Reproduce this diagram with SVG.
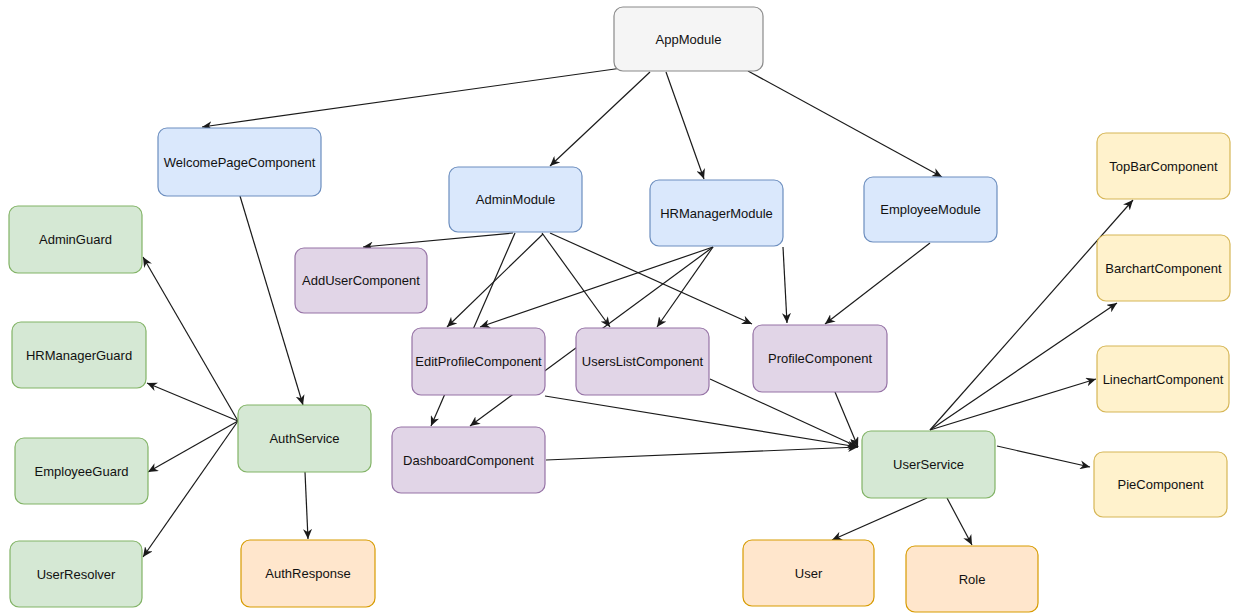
<svg xmlns="http://www.w3.org/2000/svg" width="1233" height="613" viewBox="0 0 1233 613">
<style>
.n rect{stroke-width:1.2}
.n text{font-family:"Liberation Sans",Arial,sans-serif;font-size:13px;fill:#111;text-anchor:middle;dominant-baseline:central}
.gray rect{fill:#f5f5f5;stroke:#8a8a8a}
.blue rect{fill:#dae8fc;stroke:#6c8ebf}
.green rect{fill:#d5e8d4;stroke:#82b366}
.purple rect{fill:#e1d5e7;stroke:#9673a6}
.yellow rect{fill:#fff2cc;stroke:#d6b656}
.orange rect{fill:#ffe6cc;stroke:#d79b00}
#edges line{stroke:#1a1a1a;stroke-width:1.2;fill:none}
#edges line.a{marker-end:url(#arr)}
</style>
<defs>
<marker id="arr" markerUnits="userSpaceOnUse" markerWidth="11" markerHeight="9" refX="10" refY="4.5" orient="auto">
<path d="M0,0 L10,4.5 L0,9 L3,4.5 Z" fill="#1a1a1a"/>
</marker>
</defs>
<rect width="1233" height="613" fill="#ffffff"/>
<g id="edges">
<line class="a" x1="622" y1="68" x2="202" y2="127"/>
<line class="a" x1="650" y1="72" x2="550" y2="166"/>
<line class="a" x1="666" y1="72" x2="704" y2="179"/>
<line class="a" x1="748" y1="71" x2="942" y2="177"/>
<line class="a" x1="240" y1="196" x2="303" y2="405"/>
<line class="a" x1="238" y1="421" x2="143" y2="257"/>
<line class="a" x1="238" y1="421" x2="147" y2="383"/>
<line class="a" x1="238" y1="421" x2="148" y2="472"/>
<line class="a" x1="238" y1="421" x2="143" y2="557"/>
<line class="a" x1="305" y1="472" x2="308" y2="539"/>
<line class="a" x1="513" y1="233" x2="363" y2="247"/>
<line class="a" x1="515" y1="233" x2="431" y2="426"/>
<line class="a" x1="543" y1="234" x2="447" y2="327"/>
<line class="a" x1="542" y1="233" x2="610" y2="327"/>
<line class="a" x1="550" y1="233" x2="752" y2="324"/>
<line class="a" x1="713" y1="247" x2="480" y2="327"/>
<line class="a" x1="713" y1="247" x2="470" y2="426"/>
<line class="a" x1="713" y1="247" x2="657" y2="327"/>
<line class="a" x1="783" y1="247" x2="787" y2="323"/>
<line class="a" x1="930" y1="243" x2="825" y2="324"/>
<line class="a" x1="545" y1="396" x2="858" y2="447"/>
<line class="a" x1="710" y1="379" x2="858" y2="447"/>
<line class="a" x1="835" y1="392" x2="858" y2="447"/>
<line class="a" x1="546" y1="460" x2="858" y2="447"/>
<line class="a" x1="930" y1="430" x2="1133" y2="200"/>
<line class="a" x1="930" y1="430" x2="1117" y2="303"/>
<line class="a" x1="930" y1="430" x2="1096" y2="379"/>
<line class="a" x1="997" y1="446" x2="1090" y2="467"/>
<line class="a" x1="927" y1="498" x2="832" y2="540"/>
<line class="a" x1="947" y1="498" x2="972" y2="545"/>
</g>
<g id="AppModule" class="n gray"><rect x="614" y="7" width="149" height="64" rx="9"/><text x="688.5" y="39">AppModule</text></g>
<g id="WelcomePageComponent" class="n blue"><rect x="158" y="128" width="163" height="68" rx="9"/><text x="239.5" y="162">WelcomePageComponent</text></g>
<g id="AdminModule" class="n blue"><rect x="449" y="167" width="133" height="65" rx="9"/><text x="515.5" y="199.5">AdminModule</text></g>
<g id="HRManagerModule" class="n blue"><rect x="650" y="180" width="133" height="66" rx="9"/><text x="716.5" y="213">HRManagerModule</text></g>
<g id="EmployeeModule" class="n blue"><rect x="864" y="177" width="133" height="65" rx="9"/><text x="930.5" y="209.5">EmployeeModule</text></g>
<g id="AdminGuard" class="n green"><rect x="9" y="206" width="133" height="67" rx="9"/><text x="75.5" y="239.5">AdminGuard</text></g>
<g id="HRManagerGuard" class="n green"><rect x="12" y="322" width="134" height="66" rx="9"/><text x="79" y="355">HRManagerGuard</text></g>
<g id="EmployeeGuard" class="n green"><rect x="15" y="438" width="133" height="66" rx="9"/><text x="81.5" y="471">EmployeeGuard</text></g>
<g id="UserResolver" class="n green"><rect x="10" y="541" width="132" height="66" rx="9"/><text x="76" y="574">UserResolver</text></g>
<g id="AuthService" class="n green"><rect x="238" y="405" width="133" height="67" rx="9"/><text x="304.5" y="438.5">AuthService</text></g>
<g id="AuthResponse" class="n orange"><rect x="241" y="540" width="134" height="67" rx="9"/><text x="308" y="573.5">AuthResponse</text></g>
<g id="AddUserComponent" class="n purple"><rect x="295" y="248" width="132" height="65" rx="9"/><text x="361" y="280.5">AddUserComponent</text></g>
<g id="EditProfileComponent" class="n purple"><rect x="412" y="328" width="133" height="67" rx="9"/><text x="478.5" y="361.5">EditProfileComponent</text></g>
<g id="UsersListComponent" class="n purple"><rect x="576" y="328" width="133" height="67" rx="9"/><text x="642.5" y="361.5">UsersListComponent</text></g>
<g id="ProfileComponent" class="n purple"><rect x="753" y="325" width="134" height="67" rx="9"/><text x="820" y="358.5">ProfileComponent</text></g>
<g id="DashboardComponent" class="n purple"><rect x="392" y="427" width="153" height="66" rx="9"/><text x="468.5" y="460">DashboardComponent</text></g>
<g id="UserService" class="n green"><rect x="862" y="431" width="133" height="67" rx="9"/><text x="928.5" y="464.5">UserService</text></g>
<g id="TopBarComponent" class="n yellow"><rect x="1097" y="133" width="133" height="66" rx="9"/><text x="1163.5" y="166">TopBarComponent</text></g>
<g id="BarchartComponent" class="n yellow"><rect x="1097" y="235" width="133" height="66" rx="9"/><text x="1163.5" y="268">BarchartComponent</text></g>
<g id="LinechartComponent" class="n yellow"><rect x="1097" y="346" width="132" height="66" rx="9"/><text x="1163" y="379">LinechartComponent</text></g>
<g id="PieComponent" class="n yellow"><rect x="1094" y="452" width="133" height="65" rx="9"/><text x="1160.5" y="484.5">PieComponent</text></g>
<g id="User" class="n orange"><rect x="743" y="540" width="131" height="66" rx="9"/><text x="808.5" y="573">User</text></g>
<g id="Role" class="n orange"><rect x="906" y="546" width="132" height="66" rx="9"/><text x="972" y="579">Role</text></g>
</svg>
